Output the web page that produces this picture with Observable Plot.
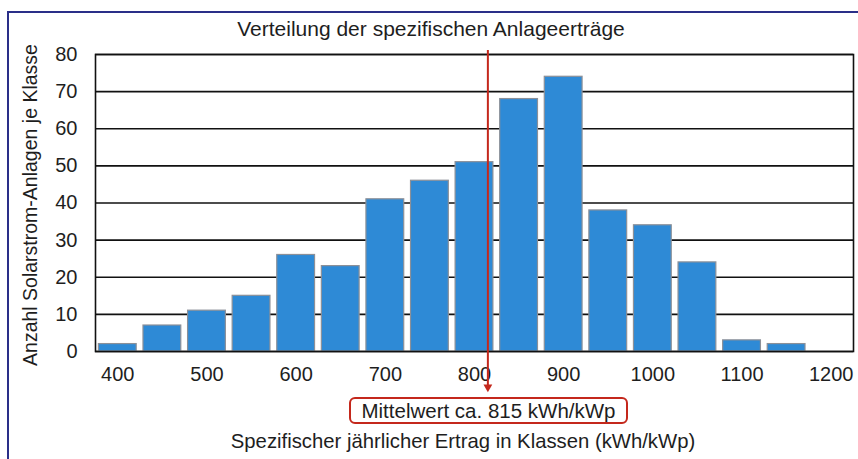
<!DOCTYPE html>
<html>
<head>
<meta charset="utf-8">
<script src="https://cdn.jsdelivr.net/npm/d3@7"></script>
<script src="https://cdn.jsdelivr.net/npm/@observablehq/plot@0.6"></script>
<style>
  html, body { margin: 0; padding: 0; background: #fff; }
  #wrap { position: relative; width: 858px; height: 459px; overflow: hidden; font-family: "Liberation Sans", Arial, sans-serif; color: #1e1e1e; }
  #outer { position: absolute; left: 7px; top: 11px; width: 1000px; height: 1000px; border-left: 2px solid #2a2f88; border-top: 2px solid #2a2f88; }
  #plot { position: absolute; left: 0; top: 0; }
  .t { position: absolute; white-space: nowrap; line-height: 1.15; }
  #title { left: 431px; top: 17px; transform: translateX(-50%); font-size: 21px; }
  #ylab { left: 30px; top: 205px; transform: translate(-50%, -50%) rotate(-90deg); font-size: 19.5px; }
  #xlab { left: 463px; top: 430px; transform: translateX(-50%); font-size: 20.3px; }
  #mean { left: 349px; top: 397px; width: 275px; height: 23px; border: 2px solid #c4281c; border-radius: 6px; font-size: 20.5px; line-height: 23px; text-align: center; }
</style>
</head>
<body>
<div id="wrap">
  <div id="outer"></div>
  <div id="plot"></div>
  <div class="t" id="title">Verteilung der spezifischen Anlageerträge</div>
  <div class="t" id="ylab">Anzahl Solarstrom-Anlagen je Klasse</div>
  <div class="t" id="mean">Mittelwert ca. 815 kWh/kWp</div>
  <div class="t" id="xlab">Spezifischer jährlicher Ertrag in Klassen (kWh/kWp)</div>
</div>
<script>
// Class centres (kWh/kWp) and number of systems per class
const classes = [400, 450, 500, 550, 600, 650, 700, 750, 800, 850, 900, 950, 1000, 1050, 1100, 1150];
const counts  = [2, 7, 11, 15, 26, 23, 41, 46, 51, 68, 74, 38, 34, 24, 3, 2];
const xTicks = [400, 500, 600, 700, 800, 900, 1000, 1100, 1200];
const yTicks = [0, 10, 20, 30, 40, 50, 60, 70, 80];
const classWidth = 50;
const meanValue = [815];

const data = classes.map((c, i) => ({c, n: counts[i]}));
const red = "#c4281c";

const chart = Plot.plot({
  width: 858,
  height: 459,
  marginLeft: 95,
  marginRight: 5,
  marginTop: 54,
  marginBottom: 108,
  style: {fontFamily: "Liberation Sans, Arial, sans-serif", fontSize: "20px", color: "#1e1e1e", background: "transparent", overflow: "visible"},
  x: {domain: [375, 1225], ticks: xTicks, tickSize: 0, tickPadding: 15, label: null, tickFormat: d => String(d)},
  y: {domain: [0, 80], ticks: yTicks, tickSize: 0, tickPadding: 18, label: null},
  marks: [
    Plot.ruleY(yTicks, {stroke: "#111", strokeWidth: 1.6}),
    Plot.rectY(data, {x1: d => d.c - classWidth / 2, x2: d => d.c + classWidth / 2, y: "n",
      insetLeft: 3.4, insetRight: 3.4, fill: "#2e8ad6", stroke: "#8c9098", strokeWidth: 1.2}),
    Plot.frame({stroke: "#111", strokeWidth: 1.6}),
    Plot.ruleX(meanValue, {x: d => d, y1: 81.1, y2: -9.6, stroke: red, strokeWidth: 2}),
    Plot.dot(meanValue, {x: d => d, y: -9.6, symbol: "triangle2", r: 4.2, rotate: 180, fill: red, stroke: "none"})
  ]
});
document.getElementById("plot").appendChild(chart);
</script>
</body>
</html>
